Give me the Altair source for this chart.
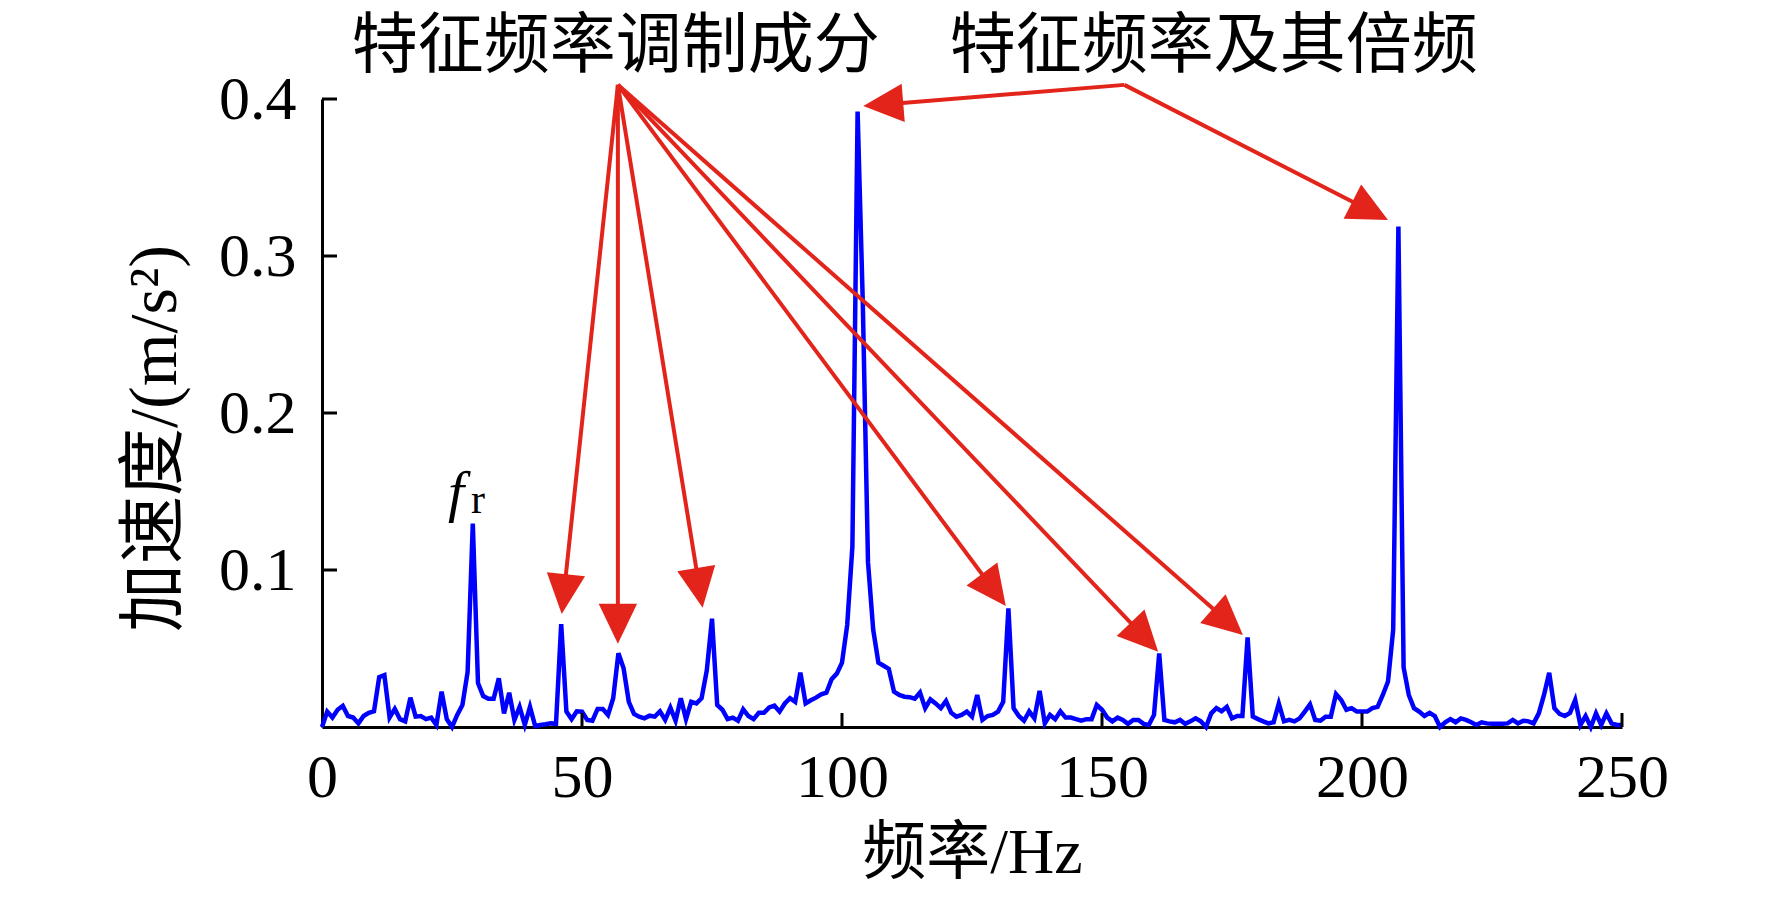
import math
import altair as alt
import pandas as pd

# ---------------- data ----------------
freq = list(range(0, 251))
amp = [
    0.0, 0.0098, 0.006, 0.011, 0.0134, 0.007, 0.006, 0.0023, 0.007, 0.009,
    0.010, 0.0317, 0.033, 0.006, 0.0115, 0.005, 0.0036, 0.0187, 0.0066, 0.007,
    0.005, 0.006, 0.0013, 0.0225, 0.005, 0.0, 0.0077, 0.014, 0.035, 0.1295,
    0.028, 0.0197, 0.018, 0.018, 0.031, 0.0087, 0.0218, 0.0045, 0.0128, 0.0013,
    0.0128, 0.0006, 0.0013, 0.0017, 0.0023, 0.002, 0.0655, 0.0098, 0.005, 0.010,
    0.0098, 0.0045, 0.004, 0.0115, 0.0115, 0.0077, 0.0183, 0.047, 0.0374, 0.016,
    0.0083, 0.0066, 0.0055, 0.0072, 0.0066, 0.010, 0.0045, 0.0123, 0.004, 0.0183,
    0.005, 0.016, 0.015, 0.0183, 0.036, 0.069, 0.014, 0.011, 0.005, 0.006,
    0.004, 0.0113, 0.007, 0.005, 0.009, 0.009, 0.0125, 0.0136, 0.0098, 0.015,
    0.0183, 0.016, 0.0346, 0.015, 0.017, 0.0187, 0.0208, 0.0218, 0.0304, 0.034,
    0.041, 0.065, 0.115, 0.392, 0.27, 0.105, 0.062, 0.041, 0.039, 0.037,
    0.0225, 0.0204, 0.0193, 0.019, 0.018, 0.022, 0.012, 0.0176, 0.015, 0.012,
    0.0166, 0.009, 0.0066, 0.0077, 0.0098, 0.0066, 0.0204, 0.0045, 0.007, 0.0077,
    0.0098, 0.016, 0.0755, 0.012, 0.007, 0.004, 0.010, 0.0055, 0.023, 0.0023,
    0.0077, 0.005, 0.010, 0.006, 0.006, 0.005, 0.004, 0.005, 0.005, 0.014,
    0.011, 0.006, 0.0036, 0.006, 0.0045, 0.002, 0.0045, 0.0045, 0.002, 0.0013,
    0.0077, 0.0468, 0.0045, 0.0036, 0.003, 0.0045, 0.002, 0.0036, 0.0055, 0.0036,
    0.0, 0.0087, 0.012, 0.010, 0.0128, 0.0055, 0.007, 0.007, 0.057, 0.0066,
    0.005, 0.0036, 0.0023, 0.003, 0.015, 0.0036, 0.0045, 0.0036, 0.0055, 0.0098,
    0.0144, 0.0045, 0.004, 0.0066, 0.0066, 0.021, 0.0172, 0.011, 0.012, 0.0098,
    0.0098, 0.0098, 0.012, 0.0128, 0.0204, 0.029, 0.062, 0.3187, 0.038, 0.0204,
    0.012, 0.0098, 0.007, 0.009, 0.007, 0.0, 0.003, 0.005, 0.003, 0.0055,
    0.0045, 0.003, 0.0013, 0.003, 0.0023, 0.002, 0.002, 0.002, 0.0023, 0.0045,
    0.0023, 0.004, 0.0036, 0.0023, 0.0087, 0.0204, 0.0345, 0.012, 0.0083, 0.007,
    0.009, 0.0172, 0.0013, 0.007, 0.0, 0.0087, 0.0013, 0.0087, 0.0023, 0.0013,
    0.0013,
]

x_ticks = [0, 50, 100, 150, 200, 250]
y_ticks = [0.1, 0.2, 0.3, 0.4]

labels_top = ["特征频率调制成分", "特征频率及其倍频"]
labels_top_f = [56.5, 171.5]
labels_top_y = [0.433, 0.433]

# arrows: source (f, y) -> target (f, y)
arrow_src_f = [56.9, 56.9, 56.9, 56.9, 56.9, 56.9, 154.3, 154.3]
arrow_src_y = [0.409, 0.409, 0.409, 0.409, 0.409, 0.409, 0.409, 0.409]
arrow_tgt_f = [46.1, 56.9, 73.2, 131.5, 160.8, 177.1, 104.1, 205.0]
arrow_tgt_y = [0.072, 0.053, 0.076, 0.077, 0.048, 0.0586, 0.3955, 0.323]

# ---------------- layout ----------------
W, H = 1300, 628
XMAX, YMAX = 250, 0.4
kx, ky = W / XMAX, H / YMAX
HEAD = 40  # arrowhead length in px

FONT = "Liberation Serif, Noto Sans CJK SC"
RED = "#e3241b"

df = pd.DataFrame({"f": freq, "a": amp})

rows = []
for sf, sy, tf, ty in zip(arrow_src_f, arrow_src_y, arrow_tgt_f, arrow_tgt_y):
    dx = (tf - sf) * kx
    dys = -(ty - sy) * ky
    L = math.hypot(dx, dys)
    ux, uy = dx / L, dys / L
    ang = math.degrees(math.atan2(dx, -dys)) % 360
    rows.append({
        "sf": sf, "sy": sy, "tf": tf, "ty": ty,
        "ef": tf - HEAD * 0.9 * ux / kx, "ey": ty + HEAD * 0.9 * uy / ky,
        "ang": ang,
    })
arrows = pd.DataFrame(rows)

xs = alt.Scale(domain=[0, XMAX], nice=False, zero=True)
ys = alt.Scale(domain=[0, YMAX], nice=False, zero=True)

line = alt.Chart(df).mark_line(color="#0000ff", strokeWidth=4.5, strokeJoin="miter").encode(
    x=alt.X("f:Q", scale=xs, axis=alt.Axis(
        values=x_ticks, title="频率/Hz", ticks=False, grid=False,
        labelFont=FONT, labelFontSize=62, labelColor="black", labelPadding=20,
        labelFlush=False,
        titleFont=FONT, titleFontSize=64, titleFontWeight="normal", titleColor="black",
        titleX=650, titleY=126, titleBaseline="middle", titleAlign="center",
        domainColor="black", domainWidth=3,
    )),
    y=alt.Y("a:Q", scale=ys, axis=alt.Axis(
        values=y_ticks, format=".1f", title="加速度/(m/s²)", ticks=False, grid=False,
        labelFont=FONT, labelFontSize=62, labelColor="black", labelPadding=26,
        labelFlush=False,
        titleFont=FONT, titleFontSize=68, titleFontWeight="normal", titleColor="black",
        titleX=-167, titleY=339, titleAngle=270, titleBaseline="middle", titleAlign="center",
        domainColor="black", domainWidth=3,
    )),
)

xt = pd.DataFrame({"t": x_ticks[1:]})
xtick = alt.Chart(xt).mark_rule(color="black", strokeWidth=3).encode(
    x=alt.X("t:Q", scale=xs), y=alt.value(H), y2=alt.value(H - 14)
)
yt = pd.DataFrame({"t": y_ticks})
ytick = alt.Chart(yt).mark_rule(color="black", strokeWidth=3).encode(
    y=alt.Y("t:Q", scale=ys), x=alt.value(0), x2=alt.value(15)
)

arrow_lines = alt.Chart(arrows).mark_rule(color=RED, strokeWidth=4).encode(
    x=alt.X("sf:Q", scale=xs), y=alt.Y("sy:Q", scale=ys),
    x2="ef:Q", y2="ey:Q",
)
heads = alt.Chart(arrows).mark_point(
    shape="M0,0L-0.48,1L0.48,1Z", filled=True, fill=RED, stroke=RED,
    strokeWidth=0, opacity=1, size=(2 * HEAD) ** 2,
).encode(
    x=alt.X("tf:Q", scale=xs), y=alt.Y("ty:Q", scale=ys),
    angle=alt.Angle("ang:Q", scale=None),
)

tdf = pd.DataFrame({"t": labels_top, "f": labels_top_f, "y": labels_top_y})
top_text = alt.Chart(tdf).mark_text(
    font=FONT, fontSize=66, color="black", align="center", baseline="middle"
).encode(x=alt.X("f:Q", scale=xs), y=alt.Y("y:Q", scale=ys), text="t:N")

fr_df = pd.DataFrame({"t": ["f"], "f": [25.8], "y": [0.1376]})
fr_f = alt.Chart(fr_df).mark_text(
    font="Liberation Serif", fontSize=58, fontStyle="italic", color="black",
    align="center", baseline="alphabetic"
).encode(x=alt.X("f:Q", scale=xs), y=alt.Y("y:Q", scale=ys), text="t:N")
fr_r_df = pd.DataFrame({"t": ["r"], "f": [30.0], "y": [0.1365]})
fr_r = alt.Chart(fr_r_df).mark_text(
    font="Liberation Serif", fontSize=42, color="black",
    align="center", baseline="alphabetic"
).encode(x=alt.X("f:Q", scale=xs), y=alt.Y("y:Q", scale=ys), text="t:N")

chart = alt.layer(
    line, xtick, ytick, arrow_lines, heads, top_text, fr_f, fr_r
).properties(
    width=W, height=H,
    padding={"left": 314, "top": 91, "right": 142, "bottom": 164},
    autosize="none",
    background="white",
).configure_view(strokeWidth=0, stroke="transparent")

chart.save("out.html", embed_options={"renderer": "svg", "actions": False})
